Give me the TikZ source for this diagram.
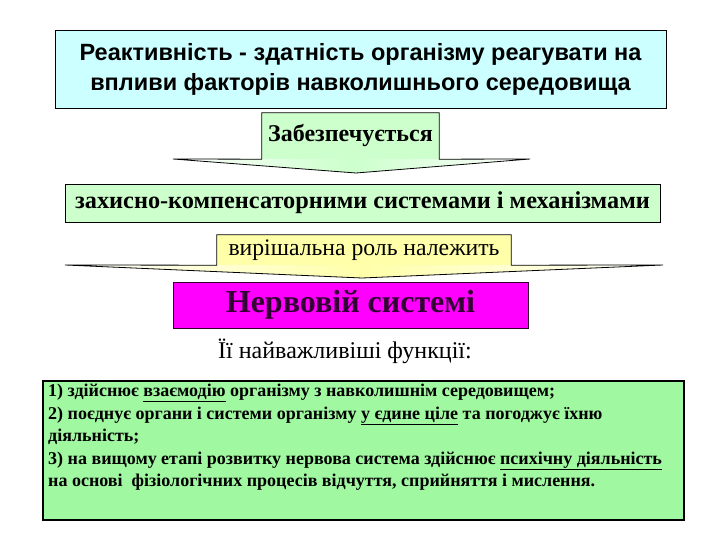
\documentclass[tikz,border=0pt]{standalone}
\usepackage{fontspec}
\setmainfont{Liberation Serif}
\newfontfamily\arialf{Liberation Sans}
\definecolor{lcyan}{HTML}{CCFFFF}
\definecolor{lgreen}{HTML}{CCFFCC}
\definecolor{lyellow}{HTML}{FFFFAA}
\definecolor{bgreen}{HTML}{A0F8A0}
\definecolor{mag}{HTML}{FF00FF}
\definecolor{darkpurple}{HTML}{330033}
\begin{document}
\begin{tikzpicture}[x=1pt,y=-1pt,
  plainbox/.style={draw=black, line width=0.8pt, inner sep=0pt, align=center},
  fillonly/.style={inner sep=0pt, align=center}]
\useasboundingbox (0,0) rectangle (720,540);

% top definition box
\node[plainbox, fill=lcyan, minimum width=611, minimum height=78,
  font=\arialf\bfseries\fontsize{23.5}{30}\selectfont] (top) at (360.5,69)
  {Реактивність - здатність організму реагувати на\\впливи факторів навколишнього середовища};

% callout "Забезпечується"
\coordinate (zl) at (173,159);
\coordinate (zr) at (530,159);
\coordinate (za) at (356,173);
\node[fillonly, fill=lgreen, minimum width=177, minimum height=46,
  font=\bfseries\fontsize{24}{28}\selectfont] (zab) at (350.5,136) {Забезпечується};
\shade[left color=white, right color=white, middle color=lgreen] (zl) -- (za) -- (zr) -- cycle;
\draw[line width=0.8pt] (zl) -- (zab.south west) -- (zab.north west) -- (zab.north east)
  -- (zab.south east) -- (zr) -- (za) -- cycle;

% systems box
\node[plainbox, fill=lgreen, minimum width=595, minimum height=38,
  font=\bfseries\fontsize{24.3}{28}\selectfont] (sys) at (362.5,203)
  {захисно-компенсаторними системами і механізмами};

% callout "вирішальна роль належить"
\coordinate (vl) at (65,265);
\coordinate (vr) at (663,265);
\coordinate (va) at (362,278);
\node[fillonly, fill=lyellow, minimum width=294, minimum height=30,
  font=\fontsize{23.7}{28}\selectfont] (vir) at (364,250) {вирішальна роль належить};
\shade[left color=white, right color=white, middle color=lyellow] (vl) -- (va) -- (vr) -- cycle;
\draw[line width=0.8pt] (vl) -- (vir.south west) -- (vir.north west) -- (vir.north east)
  -- (vir.south east) -- (vr) -- (va) -- cycle;

% nervous system box
\node[plainbox, draw=darkpurple, fill=mag, minimum width=355, minimum height=46,
  text=darkpurple, font=\bfseries\fontsize{32}{36}\selectfont] (ner) at (350.5,305)
  {Нервовій системі};

\node[fillonly, font=\fontsize{24}{28}\selectfont] (fun) at (345,351)
  {Її найважливіші функції:};

% functions box
\node[plainbox, line width=1.2pt, fill=bgreen, minimum width=641, minimum height=139] (fbox) at (363.5,450.5) {};
\node[anchor=north west, inner sep=0pt, align=left,
  font=\bfseries\fontsize{18}{22.5}\selectfont] (ftext) at (48,384)
  {1) здійснює \underline{взаємодію} організму з навколишнім середовищем;\\
   2) поєднує органи і системи організму \underline{у єдине ціле} та погоджує їхню\\
   діяльність;\\
   3) на вищому етапі розвитку нервова система здійснює \underline{психічну діяльність}\\
   на основі~ фізіологічних процесів відчуття, сприйняття і мислення.};
\end{tikzpicture}
\end{document}
